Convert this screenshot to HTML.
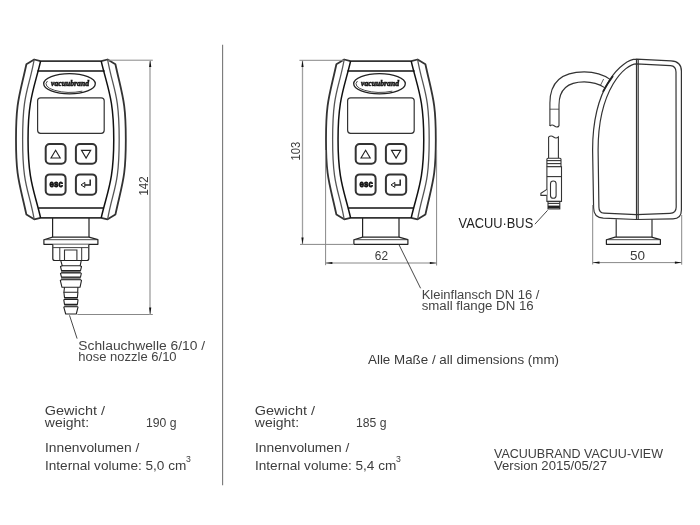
<!DOCTYPE html>
<html><head><meta charset="utf-8">
<style>
html,body{margin:0;padding:0;background:#fff;}
svg{display:block;filter:grayscale(1);}
text{font-family:"Liberation Sans",sans-serif;}
</style></head>
<body>
<svg width="700" height="525" viewBox="0 0 700 525">
<defs>
<g id="front">
  <!-- outer bumper -->
  <path d="M34.2 59.5 L40.6 61.1 L101.2 61.1 L107.6 59.5 L115.4 64.2 C122.57 97 125.8 101.37 125.8 139.4 C125.8 177.43 122.57 181.8 115.4 214.6 L107.6 219.3 L101.2 217.8 L40.6 217.8 L34.2 219.3 L26.4 214.6 C19.23 181.8 16 177.43 16 139.4 C16 101.37 19.23 97 26.4 64.2 Z" fill="#fff" stroke="#333" stroke-width="1.8" stroke-linejoin="round"/>
  <!-- middle bumper lines -->
  <path d="M34.2 59.5 C28.6 90.59 22.62 92.01 22.62 139.4 C22.62 186.79 28.6 188.21 34.2 219.3" fill="none" stroke="#555" stroke-width="1.3"/>
  <path d="M107.6 59.5 C113.2 90.59 119.18 92.01 119.18 139.4 C119.18 186.79 113.2 188.21 107.6 219.3" fill="none" stroke="#555" stroke-width="1.3"/>
  <!-- body edge -->
  <path d="M40.6 61.1 C34.13 88.59 28.04 98.4 28.04 139.4 C28.04 180.4 34.13 190.21 40.6 217.8" fill="none" stroke="#111" stroke-width="1.5"/>
  <path d="M101.2 61.1 C107.67 88.59 113.76 98.4 113.76 139.4 C113.76 180.4 107.67 190.21 101.2 217.8" fill="none" stroke="#111" stroke-width="1.5"/>
  <!-- horizontal lines -->
  <line x1="37.4" y1="71" x2="104.6" y2="71" stroke="#111" stroke-width="1.5"/>
  <line x1="38.4" y1="208" x2="103.6" y2="208" stroke="#111" stroke-width="1.5"/>
  <!-- logo -->
  <ellipse cx="69.5" cy="83.8" rx="25.8" ry="10.1" fill="none" stroke="#222" stroke-width="1.3"/>
  <path d="M47.45 81.03 A24.2 8.4 0 0 0 82.3 91.17" fill="none" stroke="#333" stroke-width="0.9"/>
  <text x="70" y="86.3" text-anchor="middle" style="font-family:'Liberation Serif',serif" font-weight="bold" font-style="italic" font-size="8.5" textLength="38" lengthAdjust="spacingAndGlyphs" fill="#111" stroke="#111" stroke-width="0.6">vacuubrand</text>
  <!-- screen -->
  <rect x="37.6" y="97.8" width="66.6" height="35.5" rx="3" fill="none" stroke="#333" stroke-width="1.2"/>
  <!-- buttons -->
  <rect x="45.7" y="144" width="19.9" height="19.8" rx="4" fill="none" stroke="#333" stroke-width="2"/>
  <rect x="75.9" y="144" width="20.3" height="19.8" rx="4" fill="none" stroke="#333" stroke-width="2"/>
  <rect x="45.7" y="174.4" width="19.9" height="20.3" rx="4" fill="none" stroke="#333" stroke-width="2"/>
  <rect x="75.9" y="174.4" width="20.3" height="20.3" rx="4" fill="none" stroke="#333" stroke-width="2"/>
  <path d="M55.6 150.3 L60.2 158 L51 158 Z" fill="none" stroke="#222" stroke-width="1.1" stroke-linejoin="miter"/>
  <path d="M81.5 150.4 L90.7 150.4 L86.1 158.1 Z" fill="none" stroke="#222" stroke-width="1.1"/>
  <text x="56.2" y="186.6" text-anchor="middle" font-weight="bold" font-size="9.6" textLength="13.2" lengthAdjust="spacingAndGlyphs" fill="#111" stroke="#111" stroke-width="0.8">esc</text>
  <path d="M90.2 179.4 L90.2 184.9 L84.2 184.9" fill="none" stroke="#222" stroke-width="1.5"/>
  <path d="M81 184.9 L84.8 182.4 L84.8 187.4 Z" fill="#fff" stroke="#222" stroke-width="1"/>
  <!-- neck -->
  <path d="M52.6 218 L52.6 237 M89 218 L89 237" fill="none" stroke="#222" stroke-width="1.2"/>
</g>
<g id="flange">
  <path d="M43.9 244.3 L43.9 239.7 L52.6 237.1 L89 237.1 L97.9 239.7 L97.9 244.3 Z" fill="#fff" stroke="#222" stroke-width="1.2" stroke-linejoin="round"/>
  <line x1="43.9" y1="239.7" x2="97.9" y2="239.7" stroke="#333" stroke-width="0.9"/>
</g>
</defs>

<!-- separator -->
<line x1="222.6" y1="44.8" x2="222.6" y2="485.2" stroke="#777" stroke-width="1.1"/>

<!-- LEFT DEVICE -->
<use href="#front"/>
<use href="#flange"/>
<!-- nut -->
<path d="M52.8 244.4 L52.8 258.5 Q52.8 260.5 54.8 260.5 L86.8 260.5 Q88.8 260.5 88.8 258.5 L88.8 244.4" fill="#fff" stroke="#222" stroke-width="1.2"/>
<line x1="53" y1="247.6" x2="88.6" y2="247.6" stroke="#444" stroke-width="1"/>
<line x1="59.8" y1="247.6" x2="59.8" y2="260.5" stroke="#333" stroke-width="1"/>
<line x1="81.7" y1="247.6" x2="81.7" y2="260.5" stroke="#333" stroke-width="1"/>
<path d="M64.5 260.5 L64.5 250 L76.9 250 L76.9 260.5" fill="none" stroke="#333" stroke-width="1.1"/>
<!-- nozzle -->
<g fill="#888" stroke="none">
  <rect x="61" y="270.6" width="19.6" height="2.3"/>
  <rect x="61" y="277.1" width="19.6" height="2.7"/>
  <rect x="64.3" y="297.6" width="13.2" height="1.9"/>
  <rect x="64.3" y="304.4" width="13.2" height="2.3"/>
</g>
<g fill="none" stroke="#222" stroke-width="1.1" stroke-linejoin="round">
  <path d="M60.7 260.3 L62.2 265.7 L80.2 265.7 L81.3 260.3"/>
  <path d="M62.2 265.7 L60.5 266.5 L61.5 270.6 L80.5 270.6 L81.5 266.5 L80.2 265.7"/>
  <path d="M61.5 272.9 L60.5 273.5 L61.5 277.1 L80.5 277.1 L81.3 273.5 L80.5 272.9 Z"/>
  <path d="M61.5 279.8 L60.3 280.4 L62 287.3 L80 287.3 L81.5 280.4 L80.5 279.8 Z"/>
  <path d="M64.5 287.3 L63.9 292.2 L77.7 292.2 L77.9 287.3"/>
  <path d="M63.9 292.2 L64.5 297.6 L77.4 297.6 L77.9 292.2"/>
  <path d="M64.5 299.5 L63.8 300 L64.5 304.4 L77.4 304.4 L78 300 L77.4 299.5 Z"/>
  <path d="M64.5 306.7 L63.8 307.2 L65.7 314 L76.3 314 L78 307.2 L77.4 306.7 Z"/>
</g>
<!-- dimension 142 -->
<g stroke="#888" stroke-width="1">
  <line x1="108" y1="60.2" x2="152.8" y2="60.2"/>
  <line x1="77.3" y1="314.5" x2="152.8" y2="314.5"/>
  <line x1="150" y1="60.2" x2="150" y2="314.5" stroke="#b0b0b0" stroke-width="1.6"/>
</g>
<path d="M150.2 60.2 L151.3 67 L149.1 67 Z" fill="#111"/>
<path d="M150.2 314.5 L151.3 307.5 L149.1 307.5 Z" fill="#111"/>
<text transform="translate(147.6 186) rotate(-90)" text-anchor="middle" font-size="13.5" fill="#3a3a3a" textLength="19" lengthAdjust="spacingAndGlyphs">142</text>
<!-- leader nozzle -->
<line x1="69.5" y1="315.3" x2="77.1" y2="338.6" stroke="#333" stroke-width="0.9"/>
<text x="78.3" y="349.9" font-size="13.7" fill="#444" textLength="126.8" lengthAdjust="spacingAndGlyphs">Schlauchwelle 6/10 /</text>
<text x="78.3" y="360.8" font-size="13.7" fill="#444" textLength="98.3" lengthAdjust="spacingAndGlyphs">hose nozzle 6/10</text>

<!-- MIDDLE DEVICE -->
<g transform="translate(310 0)">
  <use href="#front"/>
  <use href="#flange"/>
</g>
<g stroke="#888" stroke-width="1">
  <line x1="299.4" y1="60.3" x2="344" y2="60.3"/>
  <line x1="300" y1="244.4" x2="354" y2="244.4"/>
  <line x1="302.5" y1="60.3" x2="302.5" y2="244.4" stroke="#a0a0a0" stroke-width="1.3"/>
  <line x1="325.6" y1="150" x2="325.6" y2="265.2"/>
  <line x1="436.6" y1="150" x2="436.6" y2="265.5"/>
  <line x1="325.6" y1="263" x2="436.6" y2="263"/>
</g>
<path d="M302.5 60.3 L303.6 67 L301.4 67 Z" fill="#111"/>
<path d="M302.5 244.4 L303.6 237.6 L301.4 237.6 Z" fill="#111"/>
<path d="M325.6 263 L332.4 261.9 L332.4 264.1 Z" fill="#111"/>
<path d="M436.6 263 L429.8 261.9 L429.8 264.1 Z" fill="#111"/>
<text transform="translate(299.8 151.2) rotate(-90)" text-anchor="middle" font-size="13.5" fill="#3a3a3a" textLength="18.7" lengthAdjust="spacingAndGlyphs">103</text>
<text x="381.4" y="260.1" text-anchor="middle" font-size="13.5" fill="#3a3a3a" textLength="13.2" lengthAdjust="spacingAndGlyphs">62</text>
<line x1="398.9" y1="244.5" x2="420.6" y2="288.3" stroke="#333" stroke-width="0.9"/>
<text x="421.7" y="298.6" font-size="13.7" fill="#444" textLength="117.7" lengthAdjust="spacingAndGlyphs">Kleinflansch DN 16 /</text>
<text x="421.7" y="310" font-size="13.7" fill="#444" textLength="112" lengthAdjust="spacingAndGlyphs">small flange DN 16</text>

<!-- SIDE DEVICE -->
<g fill="none" stroke="#333" stroke-width="1.2">
  <!-- outer -->
  <path d="M636.4 59.1 L671 60.8 Q681.4 61.3 681.4 71 L681.4 210 Q681.4 218.8 673 218.9 L636.4 219.5 L603.3 218.2 Q593.6 217.6 593.6 208 L592.6 150 C592.6 86.1 622.1 59.2 636.4 59.2 Z"/>
  <!-- inner -->
  <path d="M636.4 63.8 L670.5 65.6 Q676 66 676 72 L676.2 207 Q676.2 213.2 670 213.3 L636.4 214.6 L604 213.2 Q598.9 213 598.9 207 L598.1 150 C598.1 88.4 625.7 63.8 636.4 63.8"/>
  <line x1="636.5" y1="59.1" x2="636.5" y2="219.7"/>
  <line x1="638.2" y1="59.2" x2="638.2" y2="219.7"/>
</g>
<!-- side neck + flange -->
<path d="M616.2 219.2 L616.2 237 M652 219.2 L652 237" fill="none" stroke="#333" stroke-width="1.2"/>
<g transform="translate(562.5 0)">
  <use href="#flange"/>
</g>
<!-- cable -->
<g fill="none" stroke="#333" stroke-width="1.1">
  <path d="M610.1 79.4 Q600 72.2 584.2 71.9 Q550 72 549.9 103 L549.9 126"/>
  <path d="M604.6 87.6 Q596 82 584.2 81.9 Q559 82 559 105 L559 126"/>
  <line x1="603.6" y1="79" x2="600.6" y2="85.1" stroke-width="0.8"/>
  <line x1="549.9" y1="109.2" x2="559" y2="109.2" stroke-width="0.8"/>
  <path d="M549.9 126 Q552 124 554.5 126 Q557 128 559 126"/>
  <path d="M548.6 137 Q551 135 553.6 137 Q556 139 558.4 137 L558.4 158.3 M548.6 137 L548.6 158.3"/>
</g>
<path d="M613 76 Q607 84 602.9 91.9" fill="none" stroke="#222" stroke-width="1.8"/>
<!-- connector -->
<g fill="#fff" stroke="#333" stroke-width="1.1">
  <rect x="546.9" y="158.2" width="14.1" height="8.5" rx="1"/>
  <line x1="546.9" y1="160.6" x2="561" y2="160.6"/>
  <line x1="546.9" y1="163.6" x2="561" y2="163.6"/>
  <rect x="546.9" y="166.7" width="14.6" height="34.7"/>
  <line x1="546.9" y1="176.6" x2="561.5" y2="176.6"/>
  <rect x="550.5" y="181" width="5.6" height="17.3" rx="2.8"/>
  <path d="M546.9 189.4 L540.9 193.2 L540.9 195.4 L546.9 195.4"/>
  <rect x="548" y="201.4" width="11.8" height="7.5"/>
  <line x1="548" y1="203.4" x2="559.8" y2="203.4"/>
</g>
<rect x="548" y="205.6" width="11.8" height="2.6" fill="#222"/>
<line x1="547.6" y1="210.3" x2="534.9" y2="224.2" stroke="#333" stroke-width="0.9"/>
<text x="458.6" y="227.6" font-size="13.8" fill="#222" textLength="74.6" lengthAdjust="spacingAndGlyphs">VACUU·BUS</text>
<!-- 50 dim -->
<g stroke="#888" stroke-width="1">
  <line x1="592.7" y1="205" x2="592.7" y2="264.5"/>
  <line x1="681.7" y1="215" x2="681.7" y2="264.7"/>
  <line x1="592.7" y1="262.6" x2="681.7" y2="262.6"/>
</g>
<path d="M592.7 262.6 L599.5 261.5 L599.5 263.7 Z" fill="#111"/>
<path d="M681.7 262.6 L674.9 261.5 L674.9 263.7 Z" fill="#111"/>
<text x="637.5" y="260.1" text-anchor="middle" font-size="13.5" fill="#3a3a3a">50</text>

<!-- TEXTS -->
<text x="368" y="363.8" font-size="12.8" fill="#3a3a3a" textLength="191" lengthAdjust="spacingAndGlyphs">Alle Maße / all dimensions (mm)</text>

<g fill="#3d3d3d" font-size="13.3">
  <text x="44.8" y="414.9" textLength="60.3" lengthAdjust="spacingAndGlyphs">Gewicht /</text>
  <text x="44.8" y="426.9" textLength="44.3" lengthAdjust="spacingAndGlyphs">weight:</text>
  <text x="146" y="426.5" textLength="30.5" lengthAdjust="spacingAndGlyphs">190 g</text>
  <text x="45" y="452.1" textLength="94.4" lengthAdjust="spacingAndGlyphs">Innenvolumen /</text>
  <text x="45" y="470.4" textLength="141.3" lengthAdjust="spacingAndGlyphs">Internal volume: 5,0 cm</text>
  <text x="186" y="461.5" font-size="8.7">3</text>

  <text x="254.8" y="414.9" textLength="60.3" lengthAdjust="spacingAndGlyphs">Gewicht /</text>
  <text x="254.8" y="426.9" textLength="44.3" lengthAdjust="spacingAndGlyphs">weight:</text>
  <text x="356" y="426.5" textLength="30.5" lengthAdjust="spacingAndGlyphs">185 g</text>
  <text x="255" y="452.1" textLength="94.4" lengthAdjust="spacingAndGlyphs">Innenvolumen /</text>
  <text x="255" y="470.4" textLength="141.3" lengthAdjust="spacingAndGlyphs">Internal volume: 5,4 cm</text>
  <text x="396" y="461.5" font-size="8.7">3</text>

  <text x="494" y="458" textLength="169" lengthAdjust="spacingAndGlyphs">VACUUBRAND VACUU-VIEW</text>
  <text x="494" y="470" textLength="113" lengthAdjust="spacingAndGlyphs">Version 2015/05/27</text>
</g>
</svg>
</body></html>
